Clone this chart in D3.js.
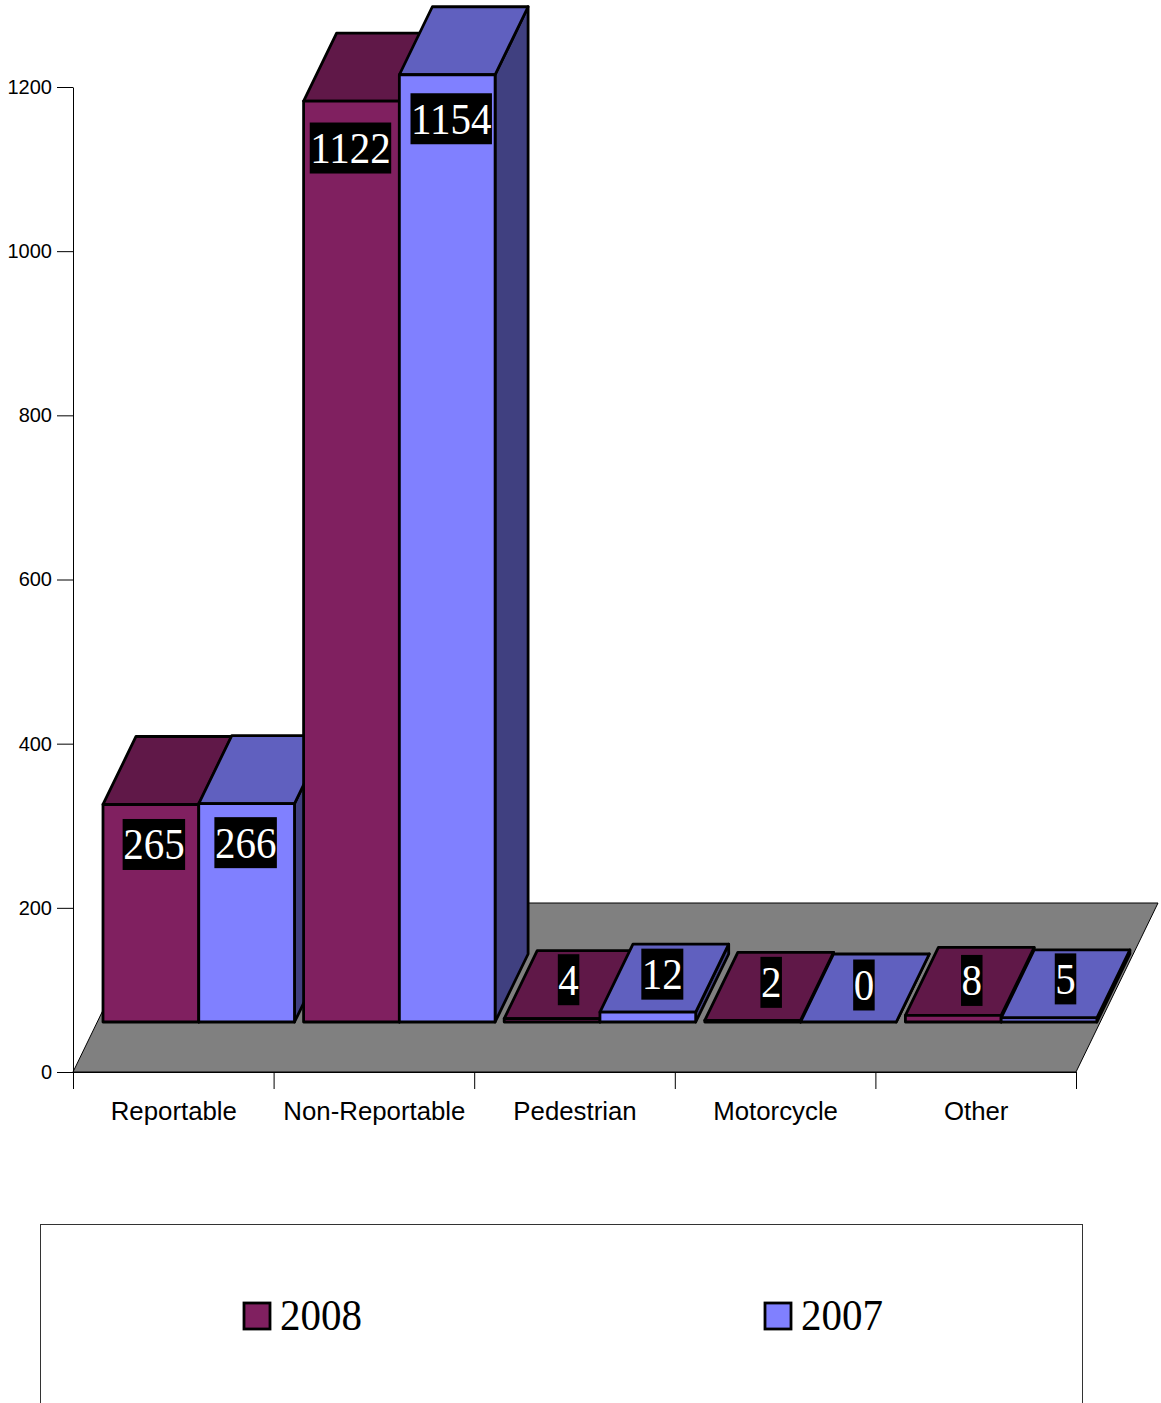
<!DOCTYPE html>
<html>
<head>
<meta charset="utf-8">
<style>
    html, body { margin: 0; padding: 0; background: #fff; overflow: hidden; }
    svg { display: block; }
</style>
<script src="https://cdn.jsdelivr.net/npm/d3@7"></script>
</head>
<body>
<div id="chart"></div>
<script>
// Data
const categories = ["Reportable", "Non-Reportable", "Pedestrian", "Motorcycle", "Other"];
const seriesNames = ["2008", "2007"];
const values2008 = [265, 1122, 4, 2, 8];
const values2007 = [266, 1154, 12, 0, 5];
const yTicks = [0, 200, 400, 600, 800, 1000, 1200];

// Label nudges, [dx, dy] per category
const nudge2008 = [[3, -4], [-1, 3], [0, -5], [2, -4], [2, -1]];
const nudge2007 = [[-1, -5], [4, 0], [-2, -4], [-1, -3], [0, -5]];

const colors = {
    "2008": { front: "#802060", top: "#601848", side: "#401030" },
    "2007": { front: "#8080ff", top: "#6060bf", side: "#404080" }
};

const width = 1161;
const height = 1403;

const svg = d3.select("#chart")
    .append("svg")
    .attr("width", width)
    .attr("height", height);

// Scales
const x = d3.scaleBand().domain(categories).range([73, 1076]);
const y = d3.scaleLinear().domain([0, 1200]).range([1072, 87]);
const xSeries = d3.scaleBand().domain(seriesNames).range([0, 191.5]);

// 3d offsets: floor depth, bar inset from the floor edge, bar depth
const floorDx = 82, floorDy = -169;
const insetDx = 30, insetDy = -50;
const barDx = 33, barDy = -68;

// Floor
svg.append("polygon")
    .attr("points", [
        [x.range()[0], y(0)],
        [x.range()[1], y(0)],
        [x.range()[1] + floorDx, y(0) + floorDy],
        [x.range()[0] + floorDx, y(0) + floorDy]
    ].join(" "))
    .attr("fill", "#808080")
    .attr("stroke", "#000")
    .attr("stroke-width", 1);

// Axes
const yAxis = svg.append("g")
    .attr("transform", "translate(73, 0)")
    .call(d3.axisLeft(y).tickValues(yTicks).tickFormat(d3.format("d")).tickSize(16).tickSizeOuter(0).tickPadding(5));
yAxis.selectAll("text")
    .style("font-family", "'Liberation Sans', Arial, sans-serif")
    .style("font-size", "20px")
    .attr("fill", "#000");

const xAxis = svg.append("g")
    .attr("transform", `translate(0, ${y(0)})`)
    .call(d3.axisBottom(x).tickSize(0).tickSizeOuter(0).tickPadding(30));
xAxis.selectAll("text")
    .style("font-family", "'Liberation Sans', Arial, sans-serif")
    .style("font-size", "25.8px")
    .attr("dx", 0.5)
    .attr("fill", "#000");

// Category ticks sit on the band edges
const edges = categories.map(d => x(d)).concat(x.range()[1]);
svg.selectAll(".edge-tick")
    .data(edges)
    .enter()
    .append("line")
    .attr("class", "edge-tick")
    .attr("x1", d => d + 0.5)
    .attr("x2", d => d + 0.5)
    .attr("y1", y(0))
    .attr("y2", y(0) + 17)
    .attr("stroke", "#000");

// Bars
const barRows = [];
categories.forEach((c, i) => {
    seriesNames.forEach((s, j) => {
        barRows.push({
            category: c,
            series: s,
            value: (j === 0 ? values2008 : values2007)[i],
            nudge: (j === 0 ? nudge2008 : nudge2007)[i]
        });
    });
});

const bars = svg.selectAll(".bar")
    .data(barRows)
    .enter()
    .append("g")
    .attr("class", "bar")
    .attr("stroke", "#000")
    .attr("stroke-width", 2.8)
    .attr("stroke-linejoin", "round");

const barLeft = d => x(d.category) + xSeries(d.series) + insetDx;
const barRight = d => barLeft(d) + xSeries.bandwidth();
const barTop = d => y(d.value) + insetDy;
const barBase = y(0) + insetDy;

bars.append("polygon")
    .attr("points", d => [
        [barRight(d), barTop(d)],
        [barRight(d) + barDx, barTop(d) + barDy],
        [barRight(d) + barDx, barBase + barDy],
        [barRight(d), barBase]
    ].join(" "))
    .attr("fill", d => colors[d.series].side);

bars.append("polygon")
    .attr("points", d => [
        [barLeft(d), barTop(d)],
        [barLeft(d) + barDx, barTop(d) + barDy],
        [barRight(d) + barDx, barTop(d) + barDy],
        [barRight(d), barTop(d)]
    ].join(" "))
    .attr("fill", d => colors[d.series].top);

bars.append("rect")
    .attr("x", d => barLeft(d))
    .attr("y", d => barTop(d))
    .attr("width", xSeries.bandwidth())
    .attr("height", d => barBase - barTop(d))
    .attr("fill", d => colors[d.series].front);

// Value labels, white on black. Tall bars carry them on the front, flat ones on the top face
const labels = svg.selectAll(".value-label")
    .data(barRows)
    .enter()
    .append("g")
    .attr("class", "value-label")
    .attr("transform", d => {
        const tall = d.value > 100;
        const cx = (barLeft(d) + barRight(d)) / 2 + (tall ? 0 : barDx / 2) + d.nudge[0];
        const cy = tall ? barTop(d) + 44 + d.nudge[1] : barTop(d) + barDy / 2 + d.nudge[1];
        return `translate(${cx}, ${cy})`;
    });

labels.append("text")
    .attr("text-anchor", "middle")
    .attr("y", 14)
    .style("font-family", "'Liberation Serif', 'Times New Roman', serif")
    .style("font-size", "41px")
    .attr("fill", "#fff")
    .text(d => d.value)
    .attr("transform", "scale(1, 1.06)");

labels.insert("rect", "text")
    .each(function () {
        const w = this.parentNode.querySelector("text").getBBox().width + 1;
        d3.select(this)
            .attr("x", -w / 2)
            .attr("y", -25.5)
            .attr("width", w)
            .attr("height", 51)
            .attr("fill", "#000");
    });

// Legend, its frame runs off the bottom of the picture
svg.append("rect")
    .attr("x", 40.5)
    .attr("y", 1224.5)
    .attr("width", 1042)
    .attr("height", 300)
    .attr("fill", "none")
    .attr("stroke", "#333")
    .attr("stroke-width", 1);

const legendX = d3.scalePoint().domain(seriesNames).range([244, 765]);

const legend = svg.selectAll(".legend-item")
    .data(seriesNames)
    .enter()
    .append("g")
    .attr("class", "legend-item")
    .attr("transform", d => `translate(${legendX(d)}, 1303)`);

legend.append("rect")
    .attr("width", 26)
    .attr("height", 26)
    .attr("fill", d => colors[d].front)
    .attr("stroke", "#000")
    .attr("stroke-width", 2.8);

legend.append("text")
    .attr("x", 36)
    .attr("y", 25)
    .style("font-family", "'Liberation Serif', 'Times New Roman', serif")
    .style("font-size", "41px")
    .attr("fill", "#000")
    .attr("transform", "scale(1, 1.06)")
    .text(d => d);
</script>
</body>
</html>
